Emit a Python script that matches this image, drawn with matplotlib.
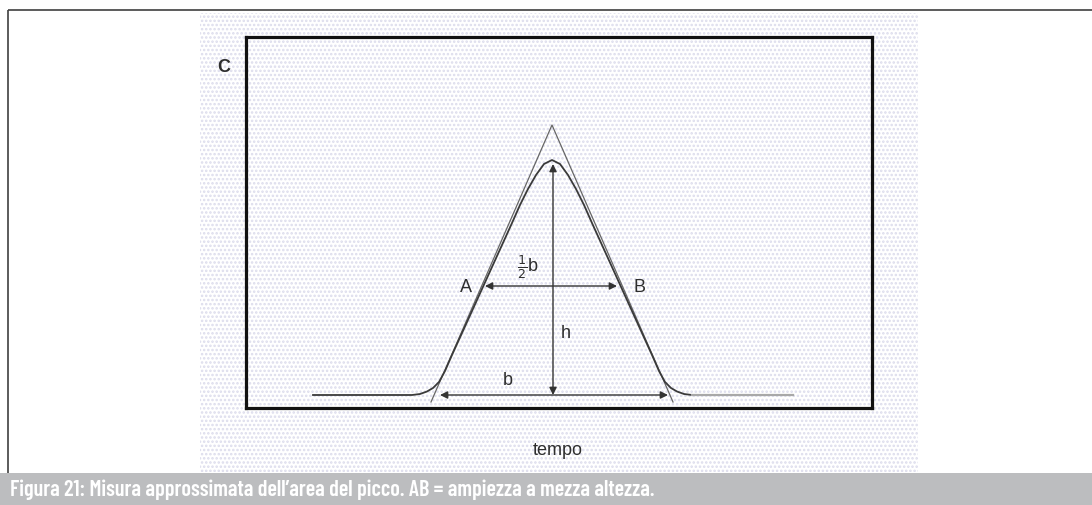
import matplotlib
matplotlib.use("Agg")
import matplotlib.pyplot as plt
from matplotlib.patches import Rectangle

# ---- data (diagram units: inner-box coordinates) ----
peak_x = [67, 166, 174, 181, 187, 193, 199, 206, 216, 226, 236, 246, 256, 266, 274, 282, 290, 298, 306,
          314, 322, 330, 338, 346, 356, 366, 376, 386, 396, 406, 413, 419, 425, 431, 438, 446]
peak_y = [13, 13, 14, 16.5, 20, 26, 37, 53, 75, 97, 119, 141, 163, 185, 203, 219, 233, 244, 248,
          244, 233, 219, 203, 185, 163, 141, 119, 97, 75, 53, 37, 26, 20, 16.5, 14, 13]
tail_x = [446, 547]
tail_y = [13, 13]
tri_x = [185, 306, 427]
tri_y = [6, 283, 6]
h_arrow = (307, 13, 244)        # x, y_bottom, y_top
ab_arrow = (239, 371, 122)      # x_left, x_right, y
b_arrow = (194, 422, 13)        # x_left, x_right, y

caption = "Figura 21: Misura approssimata dell\u2019area del picco. AB = ampiezza a mezza altezza."

W, H = 1092, 506
fig = plt.figure(figsize=(W / 100, H / 100), dpi=100)
fig.patch.set_facecolor("white")

# background / frame axes in pixel space
bg = fig.add_axes([0, 0, 1, 1])
bg.set_xlim(0, W)
bg.set_ylim(H, 0)
bg.axis("off")

plt.rcParams["hatch.linewidth"] = 1.2
bg.add_patch(Rectangle((200, 14), 718, 459, facecolor="white", edgecolor="#dcdcec",
                       hatch="....", linewidth=0))
bg.plot([8, W], [11, 11], color="#404040", lw=1.2, solid_capstyle="butt")
bg.plot([8, 8], [11, 474], color="#404040", lw=1.2, solid_capstyle="butt")
bg.add_patch(Rectangle((0, 474), W, 32, facecolor="#bcbdbf", edgecolor="none"))
cap = bg.text(10, 490, caption, color="white", fontsize=15, fontweight="semibold",
              family=["Barlow Condensed", "Roboto Condensed", "DejaVu Sans"],
              va="center", ha="left")
# fit caption to the reference width (~645 px)
fig.canvas.draw()
ext = cap.get_window_extent()
cap.set_fontsize(15 * 645.0 / ext.width)

# inner diagram axes
x0, y0, x1, y1 = 246, 38, 872, 409
ax = fig.add_axes([x0 / W, 1 - y1 / H, (x1 - x0) / W, (y1 - y0) / H])
ax.set_xlim(0, x1 - x0)
ax.set_ylim(0, y1 - y0)
ax.patch.set_alpha(0)
ax.set_xticks([])
ax.set_yticks([])
for s in ax.spines.values():
    s.set_linewidth(2.3)
    s.set_color("#111111")

ax.plot(tri_x, tri_y, color="#666666", lw=0.9)
ax.plot(peak_x, peak_y, color="#3a3a3a", lw=1.3)
ax.plot(tail_x, tail_y, color="#a8a8a8", lw=1.6)

ap = dict(arrowstyle="<|-|>", color="#333333", lw=1.0, mutation_scale=11,
          shrinkA=0, shrinkB=0)
ax.annotate("", xy=(h_arrow[0], h_arrow[2]), xytext=(h_arrow[0], h_arrow[1]), arrowprops=ap)
ax.annotate("", xy=(ab_arrow[1], ab_arrow[2]), xytext=(ab_arrow[0], ab_arrow[2]), arrowprops=ap)
ax.annotate("", xy=(b_arrow[1], b_arrow[2]), xytext=(b_arrow[0], b_arrow[2]), arrowprops=ap)

tk = dict(color="#2e2e2e", fontsize=13, ha="center", va="center", clip_on=False,
          family=["Liberation Sans", "DejaVu Sans"])
ax.text(220, 122, "A", **tk)
ax.text(394, 122, "B", **tk)
ax.text(282, 142, r"$\frac{1}{2}$b", **tk)
ax.text(320, 76, "h", **tk)
ax.text(262, 28, "b", **tk)
ax.text(-22, 341, "C", fontweight="bold", **tk)
ax.text(312, -42, "tempo", **tk)

fig.savefig("out.png", dpi=100, facecolor="white")
